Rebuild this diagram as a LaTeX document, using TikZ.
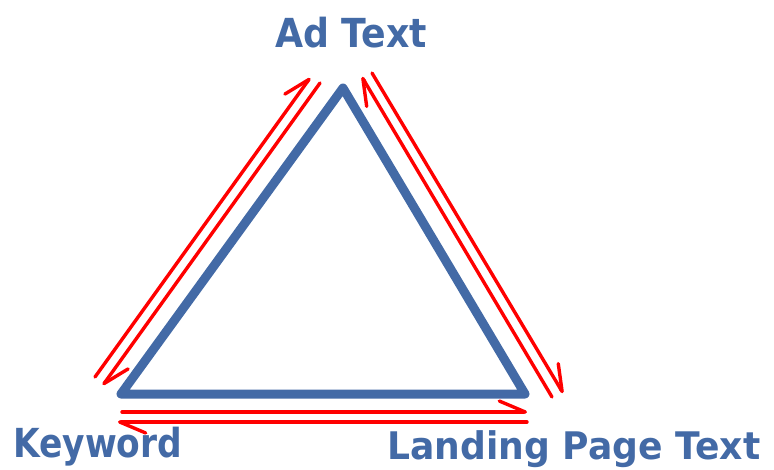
\documentclass[tikz,border=0pt]{standalone}
\usepackage{fontspec}
\setmainfont{DejaVu Sans}
\usetikzlibrary{arrows.meta}
\definecolor{triblue}{RGB}{67,106,166}
\definecolor{arrred}{RGB}{255,0,0}
\begin{document}
\begin{tikzpicture}[x=1pt,y=-1pt,
  side/.style={draw=triblue, line width=9pt, line join=round, line cap=round},
  flow/.style={draw=arrred, line width=3.4pt, line cap=round,
    -{Straight Barb[harpoon, round, length=26pt, width=22pt]}},
  lbl/.style={text=triblue, font=\fontsize{40}{40}\selectfont\bfseries, inner sep=0pt, anchor=base west}]
\useasboundingbox (0,0) rectangle (774,469);
% triangle vertices
\coordinate (A) at (343,88);
\coordinate (K) at (121,394);
\coordinate (L) at (525,394);
\draw[side] (A) -- (K) -- (L) -- cycle;
% flow end points
\coordinate (lo1) at (95,377);  \coordinate (lo2) at (310,78);
\coordinate (li1) at (320,83);  \coordinate (li2) at (103,385);
\coordinate (ri1) at (552,397); \coordinate (ri2) at (362,77);
\coordinate (ro1) at (372,73);  \coordinate (ro2) at (563,393);
\coordinate (bu1) at (122,412); \coordinate (bu2) at (527,412);
\coordinate (bl1) at (527,422); \coordinate (bl2) at (118,422);
\draw[flow] (lo1) -- (lo2);
\draw[flow] (li1) -- (li2);
\draw[flow] (ri1) -- (ri2);
\draw[flow] (ro1) -- (ro2);
\draw[flow] (bu1) -- (bu2);
\draw[flow] (bl1) -- (bl2);
% labels
\node[lbl] (adtext) at (275,47) {\resizebox{152pt}{\height}{Ad Text}};
\node[lbl] (keyword) at (13,457) {\resizebox{169pt}{\height}{Keyword}};
\node[lbl, font=\fontsize{38}{38}\selectfont\bfseries] (landing) at (387,459.5) {\resizebox{373pt}{\height}{Landing Page Text}};
\end{tikzpicture}
\end{document}
